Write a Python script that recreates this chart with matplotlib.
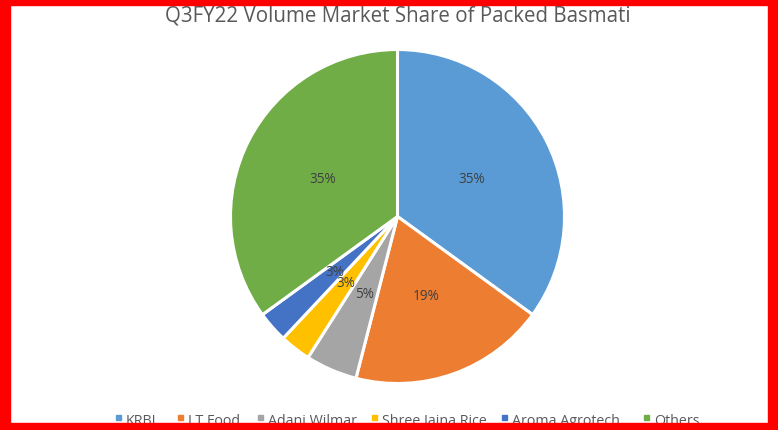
import matplotlib
matplotlib.use('Agg')
import matplotlib.pyplot as plt
from matplotlib.patches import Rectangle

# Data
companies = ['KRBL', 'LT Food', 'Adani Wilmar', 'Shree Jaina Rice', 'Aroma Agrotech', 'Others']
shares = [35, 19, 5, 3, 3, 35]
colors = ['#5B9BD5', '#ED7D31', '#A5A5A5', '#FFC000', '#4472C4', '#70AD47']

plt.rcParams['font.family'] = ['Open Sans', 'DejaVu Sans']

W, H = 778, 431
fig = plt.figure(figsize=(W / 100, H / 100), dpi=100)

# pie axes, center ~ (397, 217.5) px, radius ~167 px
cx, cy, r = 397.5, 217.5, 167
ax = fig.add_axes([(cx - r) / W, (H - cy - r) / H, 2 * r / W, 2 * r / H])

wedges, texts, autotexts = ax.pie(
    shares,
    colors=colors,
    startangle=90,
    counterclock=False,
    autopct='%1.0f%%',
    pctdistance=0.5,
    wedgeprops={'edgecolor': 'white', 'linewidth': 2.2},
    textprops={'fontsize': 9.8, 'color': '#404040'},
)
ax.set_xlim(-1, 1)
ax.set_ylim(-1, 1)
ax.set_aspect('equal')

fig.text(cx / W, 1 - 16 / H, 'Q3FY22 Volume Market Share of Packed Basmati',
         ha='center', va='center', fontsize=14.8, color='#595959')

# legend drawn by hand so every label sits on one baseline
marker_x = [116, 178, 258, 372, 502, 644]
base_y = 1 - 425 / H
for mx, name, col in zip(marker_x, companies, colors):
    fig.patches.append(Rectangle((mx / W, 1 - 421 / H), 5 / W, 5 / H,
                                 transform=fig.transFigure, color=col, zorder=5))
    fig.text((mx + 10) / W, base_y, name, ha='left', va='baseline',
             fontsize=10.3, color='#595959')

# red frame
red = '#FF0000'
fig.patches.append(Rectangle((0, 0), 10 / W, 1, transform=fig.transFigure, color=red, zorder=10))
fig.patches.append(Rectangle((1 - 10 / W, 0), 10 / W, 1, transform=fig.transFigure, color=red, zorder=10))
fig.patches.append(Rectangle((0, 1 - 6 / H), 1, 6 / H, transform=fig.transFigure, color=red, zorder=10))
fig.patches.append(Rectangle((0, 0), 1, 7 / H, transform=fig.transFigure, color=red, zorder=10))

fig.savefig('out.png', dpi=100)
